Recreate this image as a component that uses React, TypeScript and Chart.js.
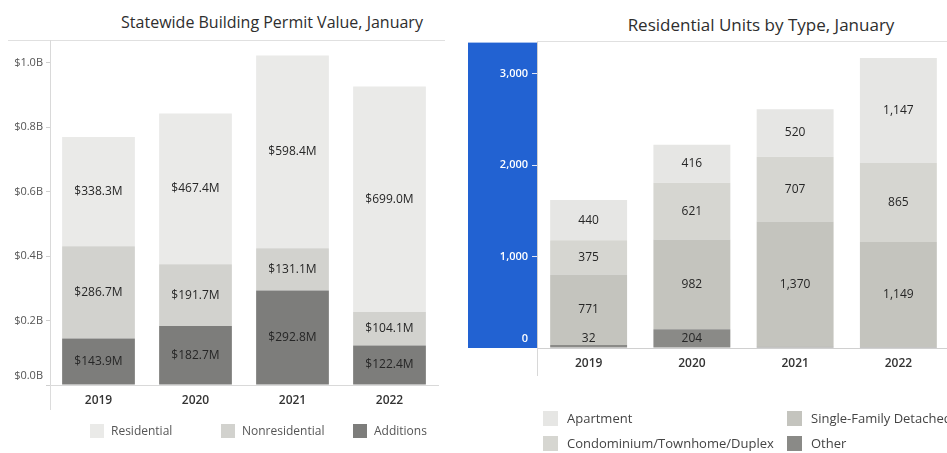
import React, { useEffect, useRef } from "react";
import { Chart, registerables } from "chart.js";

Chart.register(...registerables);

// ---------- data ----------
const YEARS = ["2019", "2020", "2021", "2022"];

// Statewide Building Permit Value ($ millions)
const PERMIT_SERIES = ["Residential", "Nonresidential", "Additions"];
const RESIDENTIAL_VALUE = [338.3, 467.4, 598.4, 699.0];
const NONRESIDENTIAL_VALUE = [286.7, 191.7, 131.1, 104.1];
const ADDITIONS_VALUE = [143.9, 182.7, 292.8, 122.4];
const PERMIT_TICKS = [0, 200, 400, 600, 800, 1000];

// Residential Units by Type
const UNIT_SERIES = ["Apartment", "Condominium/Townhome/Duplex", "Single-Family Detached", "Other"];
const APARTMENT_UNITS = [440, 416, 520, 1147];
const CONDO_UNITS = [375, 621, 707, 865];
const SFD_UNITS = [771, 982, 1370, 1149];
const OTHER_UNITS = [32, 204, 14, 10];
const UNIT_TICKS = [0, 1000, 2000, 3000];

// ---------- styles ----------
const FONT = "'Open Sans', 'Noto Sans', sans-serif";
const PERMIT_COLORS = ["#eaeae8", "#d2d2ce", "#7d7d7b"]; // Residential, Nonresidential, Additions
const UNIT_COLORS = ["#e6e6e4", "#d6d6d1", "#c4c4be", "#8a8a87"]; // Apartment, Condo, SFD, Other

function makeValueLabels(format: (v: number) => string, minValue: number) {
  return {
    id: "valueLabels",
    afterDatasetsDraw(chart: any) {
      const ctx = chart.ctx;
      ctx.save();
      ctx.font = `12px ${FONT}`;
      ctx.fillStyle = "#262626";
      ctx.textAlign = "center";
      ctx.textBaseline = "middle";
      chart.data.datasets.forEach((ds: any, di: number) => {
        const meta = chart.getDatasetMeta(di);
        meta.data.forEach((el: any, i: number) => {
          const v = ds.data[i] as number;
          if (v < minValue) return;
          const { x, y, base } = el.getProps(["x", "y", "base"], true);
          const h = base - y;
          const cy = h < 16 ? base - 9 : (y + base) / 2;
          ctx.fillText(format(v), x, cy);
        });
      });
      ctx.restore();
    },
  };
}

function makeAxisExtend(color: string) {
  return {
    id: "axisExtend",
    afterDraw(chart: any) {
      const { ctx, chartArea } = chart;
      ctx.save();
      ctx.strokeStyle = color;
      ctx.lineWidth = 1;
      ctx.beginPath();
      const x = Math.round(chartArea.left) + 0.5;
      ctx.moveTo(x, chartArea.bottom);
      ctx.lineTo(x, chart.height - 2);
      ctx.stroke();
      ctx.restore();
    },
  };
}

const blueAxisBand = {
  id: "blueAxisBand",
  beforeDraw(chart: any) {
    const { ctx, chartArea } = chart;
    const ys = chart.scales.y;
    ctx.save();
    ctx.fillStyle = "#2262d2";
    ctx.fillRect(ys.left + 1, chartArea.top, chartArea.left - ys.left - 1, chartArea.bottom - chartArea.top);
    ctx.restore();
  },
};

function PermitChart() {
  const ref = useRef<HTMLCanvasElement>(null);
  useEffect(() => {
    const chart = new Chart(ref.current as HTMLCanvasElement, {
      type: "bar",
      data: {
        labels: YEARS,
        datasets: [
          { label: PERMIT_SERIES[2], data: ADDITIONS_VALUE, backgroundColor: PERMIT_COLORS[2], stack: "s" },
          { label: PERMIT_SERIES[1], data: NONRESIDENTIAL_VALUE, backgroundColor: PERMIT_COLORS[1], stack: "s" },
          { label: PERMIT_SERIES[0], data: RESIDENTIAL_VALUE, backgroundColor: PERMIT_COLORS[0], stack: "s" },
        ],
      },
      options: {
        responsive: false,
        animation: false,
        layout: { padding: { top: 10, right: 12, left: 0, bottom: 0 } },
        plugins: { legend: { display: false }, tooltip: { enabled: false }, title: { display: false } },
        datasets: { bar: { categoryPercentage: 0.75, barPercentage: 1 } },
        scales: {
          x: {
            stacked: true,
            grid: { display: false, drawTicks: false },
            border: { color: "#d9d9d9" },
            ticks: { padding: 8, color: "#333", font: { family: FONT, size: 12, weight: "600" } },
            afterFit: (s: any) => { s.height = 27; },
          },
          y: {
            stacked: true,
            min: 0,
            max: 1070,
            afterBuildTicks: (s: any) => { s.ticks = PERMIT_TICKS.map((v) => ({ value: v })); },
            grid: { drawOnChartArea: false, drawTicks: true, tickLength: 4, color: "#cfcfcf" },
            border: { color: "#d9d9d9" },
            ticks: {
              padding: 3,
              color: "#555",
              font: (c: any) => ({ family: FONT, size: 11, lineHeight: c.tick && c.tick.value === 0 ? "18px" : 1.2 }),
              callback: (v: any) => {
                const s = "$" + (Number(v) / 1000).toFixed(1) + "B";
                return Number(v) === 0 ? [s, ""] : s;
              },
            },
            afterFit: (s: any) => { s.width = 50; },
          },
        },
      } as any,
      plugins: [makeValueLabels((v) => "$" + v.toFixed(1) + "M", 0), makeAxisExtend("#dcdcdc")],
    });
    return () => chart.destroy();
  }, []);
  return (
    <canvas
      ref={ref}
      width={450}
      height={382}
      style={{ position: "absolute", left: 0, top: 30, width: 450, height: 382 }}
    />
  );
}

function UnitsChart() {
  const ref = useRef<HTMLCanvasElement>(null);
  useEffect(() => {
    const chart = new Chart(ref.current as HTMLCanvasElement, {
      type: "bar",
      data: {
        labels: YEARS,
        datasets: [
          { label: UNIT_SERIES[3], data: OTHER_UNITS, backgroundColor: UNIT_COLORS[3], stack: "s" },
          { label: UNIT_SERIES[2], data: SFD_UNITS, backgroundColor: UNIT_COLORS[2], stack: "s" },
          { label: UNIT_SERIES[1], data: CONDO_UNITS, backgroundColor: UNIT_COLORS[1], stack: "s" },
          { label: UNIT_SERIES[0], data: APARTMENT_UNITS, backgroundColor: UNIT_COLORS[0], stack: "s" },
        ],
      },
      options: {
        responsive: false,
        animation: false,
        layout: { padding: { top: 10, right: 1, left: 0, bottom: 0 } },
        plugins: { legend: { display: false }, tooltip: { enabled: false }, title: { display: false } },
        datasets: { bar: { categoryPercentage: 0.745, barPercentage: 1 } },
        scales: {
          x: {
            stacked: true,
            grid: { display: false, drawTicks: false },
            border: { color: "#d0d0d0" },
            ticks: { padding: 8, color: "#333", font: { family: FONT, size: 12, weight: "600" } },
            afterFit: (s: any) => { s.height = 30; },
          },
          y: {
            stacked: true,
            min: 0,
            max: 3340,
            afterBuildTicks: (s: any) => { s.ticks = UNIT_TICKS.map((v) => ({ value: v })); },
            grid: { drawOnChartArea: false, drawTicks: true, tickLength: 5, color: "rgba(255,255,255,0.85)" },
            border: { color: "#d0d0d0" },
            ticks: {
              padding: 4,
              color: "#ffffff",
              font: (c: any) => ({ family: FONT, size: 11, weight: "600", lineHeight: c.tick && c.tick.value === 0 ? "18px" : 1.2 }),
              callback: (v: any) => {
                const s = Number(v).toLocaleString("en-US");
                return Number(v) === 0 ? [s, ""] : s;
              },
            },
            afterFit: (s: any) => { s.width = 70; },
          },
        },
      } as any,
      plugins: [blueAxisBand, makeValueLabels((v) => v.toLocaleString("en-US"), 30), makeAxisExtend("#d8d8d8")],
    });
    return () => chart.destroy();
  }, []);
  return (
    <canvas
      ref={ref}
      width={484}
      height={346}
      style={{ position: "absolute", left: 467, top: 32, width: 484, height: 346 }}
    />
  );
}

const swatch = (color: string): React.CSSProperties => ({
  position: "absolute",
  width: 14,
  height: 14,
  background: color,
});

export default function App() {
  const permitLegendX = [90, 221, 353];
  const unitLegendPos = [
    { x: 543, y: 411 },
    { x: 543, y: 436 },
    { x: 787, y: 411 },
    { x: 787, y: 436 },
  ];
  return (
    <div
      style={{
        position: "absolute",
        left: 0,
        top: 0,
        width: 947,
        height: 453,
        overflow: "hidden",
        background: "#ffffff",
        fontFamily: FONT,
      }}
    >
      {/* titles */}
      <div
        style={{
          position: "absolute",
          left: 72,
          top: 10,
          width: 400,
          textAlign: "center",
          fontSize: 16,
          lineHeight: "24px",
          color: "#2e2e2e",
          whiteSpace: "nowrap",
        }}
      >
        Statewide Building Permit Value, January
      </div>
      <div style={{ position: "absolute", left: 8, top: 40, width: 437, height: 1, background: "#e0e0e0" }} />
      <div
        style={{
          position: "absolute",
          left: 561,
          top: 12,
          width: 400,
          textAlign: "center",
          fontSize: 17,
          lineHeight: "26px",
          color: "#2e2e2e",
          whiteSpace: "nowrap",
        }}
      >
        Residential Units by Type, January
      </div>
      <div style={{ position: "absolute", left: 537, top: 41, width: 410, height: 1, background: "#e0e0e0" }} />

      <PermitChart />
      <UnitsChart />

      {/* left legend */}
      {PERMIT_SERIES.map((name, i) => (
        <React.Fragment key={name}>
          <div style={{ ...swatch(PERMIT_COLORS[i]), left: permitLegendX[i], top: 424 }} />
          <div
            style={{
              position: "absolute",
              left: permitLegendX[i] + 21,
              top: 422,
              fontSize: 12,
              lineHeight: "18px",
              color: "#555",
              whiteSpace: "nowrap",
            }}
          >
            {name}
          </div>
        </React.Fragment>
      ))}

      {/* right legend */}
      {UNIT_SERIES.map((name, i) => (
        <React.Fragment key={name}>
          <div style={{ ...swatch(UNIT_COLORS[i]), left: unitLegendPos[i].x, top: unitLegendPos[i].y, width: 15, height: 15 }} />
          <div
            style={{
              position: "absolute",
              left: unitLegendPos[i].x + 24,
              top: unitLegendPos[i].y - 2,
              fontSize: 13,
              lineHeight: "19px",
              color: "#444",
              whiteSpace: "nowrap",
            }}
          >
            {name}
          </div>
        </React.Fragment>
      ))}
    </div>
  );
}
